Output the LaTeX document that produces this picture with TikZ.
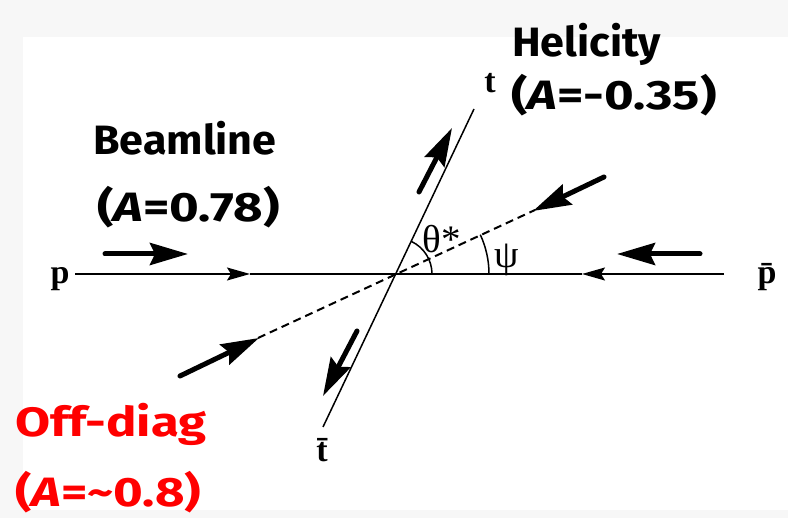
\documentclass[tikz,border=0pt]{standalone}
\usepackage{fontspec}
\setmainfont{Liberation Serif}
\newfontfamily\comicfont{Fira Sans}[FakeStretch=1.05]
\newfontfamily\comicwide{Fira Sans}[FakeStretch=1.24]
\usetikzlibrary{arrows.meta}
\definecolor{pagegray}{HTML}{F7F7F7}
\tikzset{
  bigarrow/.style={line width=5pt, line cap=round, -{Stealth[length=38pt,width=22pt,inset=5pt]}},
  midtip/.style={-{Stealth[length=23pt,width=13pt,inset=4pt]}},
  axis/.style={line width=1.5pt},
  caption/.style={font=\comicfont\bfseries\fontsize{41}{48}\selectfont, anchor=base west, inner sep=0pt},
  widecaption/.style={caption, font=\comicwide\bfseries\fontsize{41}{48}\selectfont},
  symb/.style={font=\fontsize{39}{44}\selectfont, inner sep=0pt, anchor=base},
  particle/.style={symb, font=\bfseries\fontsize{34}{40}\selectfont},
}
\begin{document}
\begin{tikzpicture}[x=1pt,y=1pt]
  % page and white panel
  \fill[pagegray] (0,0) rectangle (788,518);
  \fill[white] (23,8) rectangle (788,481);
  \useasboundingbox (0,0) rectangle (788,518);
  % points on the lines
  \coordinate (O) at (396,244);
  \coordinate (beamL) at (75,244);
  \coordinate (beamR) at (724,244);
  \coordinate (tipL) at (250,244);
  \coordinate (tipR) at (582,244);
  \coordinate (top) at (474,409);
  \coordinate (antitop) at (323,91);
  \coordinate (offL) at (258,180);
  \coordinate (offR) at (535,308);
  % beamline with its two arrows
  \draw[axis,midtip] (beamL) -- (tipL);
  \draw[axis] (tipL) -- (tipR);
  \draw[axis,midtip] (beamR) -- (tipR);
  % top direction and off-diagonal axis
  \draw[axis] (antitop) -- (top);
  \draw[line width=2pt, dash pattern=on 8pt off 5pt] (offL) -- (offR);
  % angles
  \draw[axis] (O) ++(36pt,0) arc[start angle=0, end angle=64.5, radius=36pt];
  \draw[axis] (O) ++(93pt,0) arc[start angle=0, end angle=25, radius=93pt];
  \node[symb] (lblTheta) at (442,265) {θ*};
  \node[symb] (lblPsi) at (507,250) {ψ};
  % particle labels
  \node[particle] (lblP) at (60,234) {p};
  \node[particle] (lblPbar) at (767,234) {\=p};
  \node[particle] (lblT) at (490,425) {t};
  \node[particle] (lblTbar) at (322,56) {\=t};
  % spin arrows
  \coordinate (sA1) at (105,264); \coordinate (sA2) at (188,264);
  \coordinate (sB1) at (700,264); \coordinate (sB2) at (617,264);
  \coordinate (sC1) at (419,326); \coordinate (sC2) at (452,390);
  \coordinate (sD1) at (357,187); \coordinate (sD2) at (323,122);
  \coordinate (sE1) at (604,341); \coordinate (sE2) at (533,307);
  \coordinate (sF1) at (180,142); \coordinate (sF2) at (259,180);
  \foreach \s in {A,B,C,D,E,F} \draw[bigarrow] (s\s1) -- (s\s2);
  % basis names
  \node[caption] (helicity) at (512,461) {Helicity};
  \node[widecaption] (helA) at (511,408) {({\itshape A}=-0.35)};
  \node[caption] (beamline) at (93,363) {Beamline};
  \node[widecaption] (beamA) at (97,296) {({\itshape A}=0.78)};
  \node[widecaption, red] (offdiag) at (15,81) {Off-diag};
  \node[widecaption, red] (offA) at (15,11) {({\itshape A}=\textasciitilde0.8)};
\end{tikzpicture}
\end{document}
